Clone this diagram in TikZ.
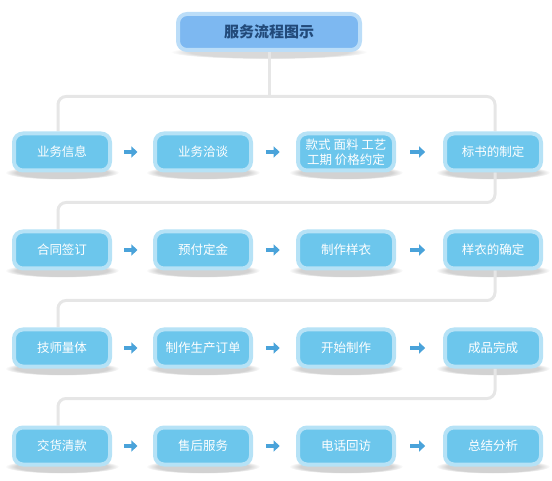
\documentclass[tikz,border=0pt]{standalone}
\usepackage{fontspec}
\newfontfamily\cjk{Noto Sans CJK SC}
\usetikzlibrary{arrows.meta,calc,fadings,backgrounds}
\definecolor{boxfill}{HTML}{6CC6EC}
\definecolor{boxrim}{HTML}{B6E2F6}
\definecolor{headfill}{HTML}{7DB8F1}
\definecolor{headrim}{HTML}{BBDDF8}
\definecolor{headtext}{HTML}{224A7A}
\definecolor{linkgray}{HTML}{E6E6E6}
\definecolor{arrowblue}{HTML}{4AA3DA}
\begin{document}
\begin{tikzpicture}[x=1pt,y=-1pt,
    stage/.style={draw=boxrim,line width=4pt,fill=boxfill,rounded corners=9pt,
      minimum width=96pt,minimum height=37pt,text=white,align=center,
      font=\cjk\fontsize{12.5}{15}\selectfont},
    head/.style={stage,draw=headrim,fill=headfill,minimum width=182pt,
      minimum height=36pt,text=headtext,font=\cjk\bfseries\fontsize{15}{18}\selectfont},
    link/.style={draw=linkgray,line width=3pt,rounded corners=8pt},
    next/.style={draw=arrowblue,line width=4pt,-{Triangle[length=6pt,width=11pt]}}]
  \useasboundingbox (0,0) rectangle (552,481);
  \node[head] (title) at (269,32) {服务流程图示};
  % row 1
  \node[stage] (s1) at (62,152) {业务信息};
  \node[stage] (s2) at (203,152) {业务洽谈};
  \node[stage] (s3) at (346,152) {款式 面料 工艺\\工期 价格约定};
  \node[stage] (s4) at (493,152) {标书的制定};
  % row 2
  \node[stage] (s5) at (62,250) {合同签订};
  \node[stage] (s6) at (203,250) {预付定金};
  \node[stage] (s7) at (346,250) {制作样衣};
  \node[stage] (s8) at (493,250) {样衣的确定};
  % row 3
  \node[stage] (s9) at (62,348) {技师量体};
  \node[stage] (s10) at (203,348) {制作生产订单};
  \node[stage] (s11) at (346,348) {开始制作};
  \node[stage] (s12) at (493,348) {成品完成};
  % row 4
  \node[stage] (s13) at (62,446) {交货清款};
  \node[stage] (s14) at (203,446) {售后服务};
  \node[stage] (s15) at (346,446) {电话回访};
  \node[stage] (s16) at (493,446) {总结分析};
  \begin{scope}[on background layer]
    \fill[gray!30,path fading=circle with fuzzy edge 20 percent]
      (title.south) ellipse (98pt and 7pt);
    \foreach \n in {s1,s2,s3,s4,s5,s6,s7,s8,s9,s10,s11,s12,s13,s14,s15,s16}
      \fill[gray!35,path fading=circle with fuzzy edge 20 percent]
        (\n.south) ellipse (57pt and 7pt);
    \draw[link] (title.south) -- (title.south |- 0,98);
    \draw[link] ([xshift=-4pt]s1.north) -- ++(0,-35) -| ([xshift=2pt]s4.north);
    \draw[link] ([xshift=2pt]s4.south) -- ++(0,30) -| ([xshift=-4pt]s5.north);
    \draw[link] ([xshift=2pt]s8.south) -- ++(0,30) -| ([xshift=-4pt]s9.north);
    \draw[link] ([xshift=2pt]s12.south) -- ++(0,30) -| ([xshift=-4pt]s13.north);
  \end{scope}
  \foreach \a/\b in {s1/s2,s2/s3,s3/s4,s5/s6,s6/s7,s7/s8,s9/s10,s10/s11,s11/s12,s13/s14,s14/s15,s15/s16}
    \draw[next] ($(\a.east)!0.3!(\b.west)$) -- ($(\a.east)!0.62!(\b.west)$);
\end{tikzpicture}
\end{document}
